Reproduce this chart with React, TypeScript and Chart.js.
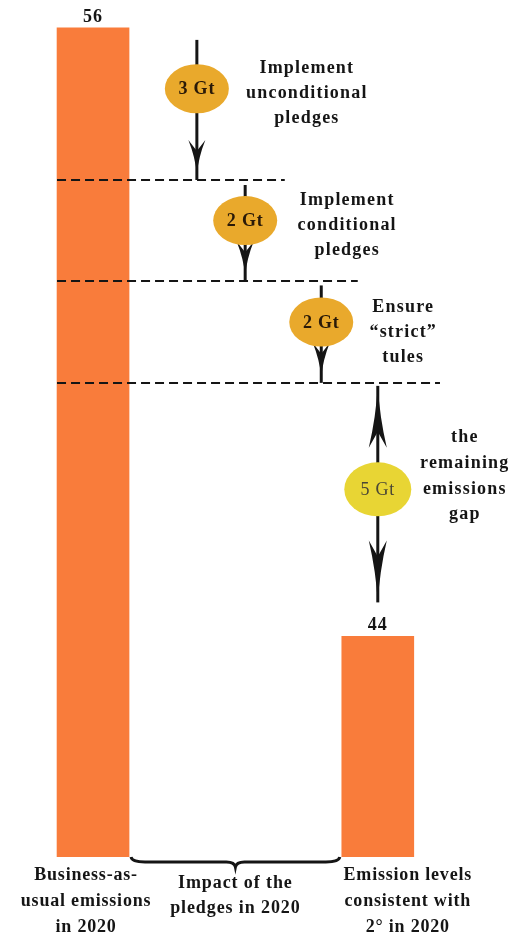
import React, { useEffect, useRef } from "react";
import { Chart, registerables } from "chart.js";

Chart.register(...registerables);

// ---------- DATA ----------
const categories = [
  "Business-as-usual emissions in 2020",
  "Emission levels consistent with 2° in 2020",
];
const barValues = [56, 44]; // Gt
const categoryLabelLines = [
  ["Business-as-", "usual emissions", "in 2020"],
  ["Emission levels", "consistent with", "2° in 2020"],
];
const pledgeSteps = [3, 2, 2]; // Gt reductions
const pledgeLabels = [
  ["Implement", "unconditional", "pledges"],
  ["Implement", "conditional", "pledges"],
  ["Ensure", "“strict”", "tules"],
];
const gapLabel = ["the", "remaining", "emissions", "gap"];
const braceLabel = ["Impact of the", "pledges in 2020"];
const unit = "Gt";

// ---------- LAYOUT (positions on a 0..100 horizontal layout scale) ----------
const BAR_X = [18.1, 73.5];
const STEP_X = [38.3, 47.7, 62.5];
const DASH_END_X = [55.4, 69.6, 85.6];
const STEP_LABEL_DX = [110, 102, 82];
const STEP_LABEL_DY = [-16, -16, -10];
const STEP_START_GAP = [12, 5, 4];
const CAT_LABEL_DX = [-7, 30];

const SERIF = '"Liberation Serif", "Times New Roman", serif';
const BAR_COLOR = "#F97C3B";
const PLEDGE_COLOR = "#E9A92C";
const GAP_COLOR = "#E8D534";
const INK = "#151515";

function setFont(ctx: CanvasRenderingContext2D, weight: string, size: number, spacing: number) {
  ctx.font = `${weight} ${size}px ${SERIF}`;
  try {
    (ctx as any).letterSpacing = `${spacing}px`;
  } catch (e) {}
}

function drawHead(
  ctx: CanvasRenderingContext2D,
  x: number,
  tipY: number,
  dir: number,
  len: number,
  half: number,
  notch: number
) {
  ctx.beginPath();
  ctx.moveTo(x, tipY);
  ctx.quadraticCurveTo(x - half * 0.2, tipY - dir * len * 0.5, x - half, tipY - dir * len);
  ctx.lineTo(x, tipY - dir * len * notch);
  ctx.lineTo(x + half, tipY - dir * len);
  ctx.quadraticCurveTo(x + half * 0.2, tipY - dir * len * 0.5, x, tipY);
  ctx.closePath();
  ctx.fill();
}

function drawLines(ctx: CanvasRenderingContext2D, lines: string[], cx: number, firstBaseline: number, lh: number) {
  ctx.textAlign = "center";
  ctx.textBaseline = "alphabetic";
  lines.forEach((t, i) => ctx.fillText(t, cx, firstBaseline + i * lh));
}

const overlay = {
  id: "overlay",
  afterDatasetsDraw(chart: any) {
    const ctx: CanvasRenderingContext2D = chart.ctx;
    const xs = chart.scales.x;
    const ys = chart.scales.y;
    const bars = chart.getDatasetMeta(0).data;
    const b0 = bars[0];
    const b1 = bars[1];
    const b0Left = b0.x - b0.width / 2;
    const b0Right = b0.x + b0.width / 2;
    const b1Left = b1.x - b1.width / 2;
    const base = chart.chartArea.bottom;

    const levels = [barValues[0]];
    pledgeSteps.forEach((s) => levels.push(levels[levels.length - 1] - s));
    const levelPx = levels.map((v) => ys.getPixelForValue(v));

    ctx.save();
    ctx.fillStyle = INK;
    ctx.strokeStyle = INK;

    // dashed level lines
    ctx.setLineDash([9, 5]);
    ctx.lineWidth = 2;
    for (let i = 1; i < levels.length; i++) {
      const y = Math.round(levelPx[i]);
      ctx.beginPath();
      ctx.moveTo(b0Left, y);
      ctx.lineTo(xs.getPixelForValue(DASH_END_X[i - 1]), y);
      ctx.stroke();
    }
    ctx.setLineDash([]);

    // pledge step arrows
    pledgeSteps.forEach((s, i) => {
      const x = xs.getPixelForValue(STEP_X[i]);
      const y0 = levelPx[i] + STEP_START_GAP[i];
      const y1 = levelPx[i + 1];
      ctx.lineWidth = 3;
      ctx.beginPath();
      ctx.moveTo(x, y0);
      ctx.lineTo(x, y1);
      ctx.stroke();
      drawHead(ctx, x, y1 - 6, 1, 34, 8.5, 0.68);
      const cy = levelPx[i] + (levelPx[i + 1] - levelPx[i]) * 0.4;
      ctx.fillStyle = PLEDGE_COLOR;
      ctx.beginPath();
      ctx.ellipse(x, cy, 32, 24.5, 0, 0, Math.PI * 2);
      ctx.fill();
      ctx.fillStyle = "#2a1a08";
      setFont(ctx, "bold", 18, 0.8);
      ctx.textAlign = "center";
      ctx.textBaseline = "middle";
      ctx.fillText(`${s} ${unit}`, x, cy + 1);
      ctx.fillStyle = INK;
      setFont(ctx, "bold", 18, 1.2);
      drawLines(ctx, pledgeLabels[i], x + STEP_LABEL_DX[i], cy + STEP_LABEL_DY[i], 25);
    });

    // remaining gap double arrow
    {
      const x = b1.x;
      const top = levelPx[levelPx.length - 1] + 3;
      const bottom = b1.y - 34;
      ctx.lineWidth = 3;
      ctx.beginPath();
      ctx.moveTo(x, top);
      ctx.lineTo(x, bottom);
      ctx.stroke();
      drawHead(ctx, x, top, -1, 62, 9, 0.74);
      drawHead(ctx, x, bottom, 1, 62, 9, 0.74);
      const cy = levelPx[levelPx.length - 1] + (b1.y - levelPx[levelPx.length - 1]) * 0.42;
      ctx.fillStyle = GAP_COLOR;
      ctx.beginPath();
      ctx.ellipse(x, cy, 33.5, 27, 0, 0, Math.PI * 2);
      ctx.fill();
      const gap = levels[levels.length - 1] - barValues[1];
      ctx.fillStyle = "#4a4636";
      setFont(ctx, "normal", 18, 0.8);
      ctx.textAlign = "center";
      ctx.textBaseline = "middle";
      ctx.fillText(`${gap} ${unit}`, x, cy + 1);
      ctx.fillStyle = INK;
      setFont(ctx, "bold", 18, 1.2);
      drawLines(ctx, gapLabel, x + 87, cy - 47, 25.7);
    }

    // value labels on bars
    ctx.fillStyle = INK;
    setFont(ctx, "bold", 18, 1);
    bars.forEach((b: any, i: number) => {
      ctx.textAlign = "center";
      ctx.textBaseline = "alphabetic";
      ctx.fillText(String(barValues[i]), b.x, b.y - 6);
    });

    // brace under the gap between bars
    {
      const x1 = b0Right + 2;
      const x2 = b1Left - 2;
      const mid = (x1 + x2) / 2;
      const y0 = base;
      ctx.lineWidth = 3;
      ctx.beginPath();
      ctx.moveTo(x1, y0);
      ctx.quadraticCurveTo(x1 + 1, y0 + 5, x1 + 14, y0 + 5);
      ctx.lineTo(mid - 9, y0 + 5);
      ctx.quadraticCurveTo(mid - 1, y0 + 5, mid, y0 + 10);
      ctx.quadraticCurveTo(mid + 1, y0 + 5, mid + 9, y0 + 5);
      ctx.lineTo(x2 - 14, y0 + 5);
      ctx.quadraticCurveTo(x2 - 1, y0 + 5, x2, y0);
      ctx.stroke();
      setFont(ctx, "bold", 18, 0.9);
      drawLines(ctx, braceLabel, mid, y0 + 31, 25);
    }

    // category labels
    setFont(ctx, "bold", 18, 0.8);
    bars.forEach((b: any, i: number) => {
      drawLines(ctx, categoryLabelLines[i], b.x + CAT_LABEL_DX[i], base + 23, 26);
    });

    ctx.restore();
  },
};

export default function App() {
  const canvasRef = useRef<HTMLCanvasElement | null>(null);

  useEffect(() => {
    if (!canvasRef.current) return;
    const chart = new Chart(canvasRef.current, {
      type: "bar",
      data: {
        labels: categories,
        datasets: [
          {
            label: "Emissions (Gt)",
            data: barValues.map((v, i) => ({ x: BAR_X[i], y: v })) as any,
            backgroundColor: BAR_COLOR,
            borderWidth: 0,
            barThickness: 72,
          },
        ],
      },
      options: {
        animation: false,
        responsive: true,
        maintainAspectRatio: false,
        layout: { padding: { top: 0, bottom: 79, left: 0, right: 0 } },
        scales: {
          x: { type: "linear", min: 0, max: 100, display: false, offset: false },
          y: { type: "linear", min: 39.65, max: 56.55, display: false },
        },
        plugins: {
          legend: { display: false },
          tooltip: { enabled: false },
        },
      },
      plugins: [overlay],
    });
    return () => chart.destroy();
  }, []);

  return (
    <div
      style={{
        position: "fixed",
        left: 0,
        top: 0,
        width: 514,
        height: 936,
        background: "#ffffff",
      }}
    >
      <canvas ref={canvasRef} />
    </div>
  );
}
